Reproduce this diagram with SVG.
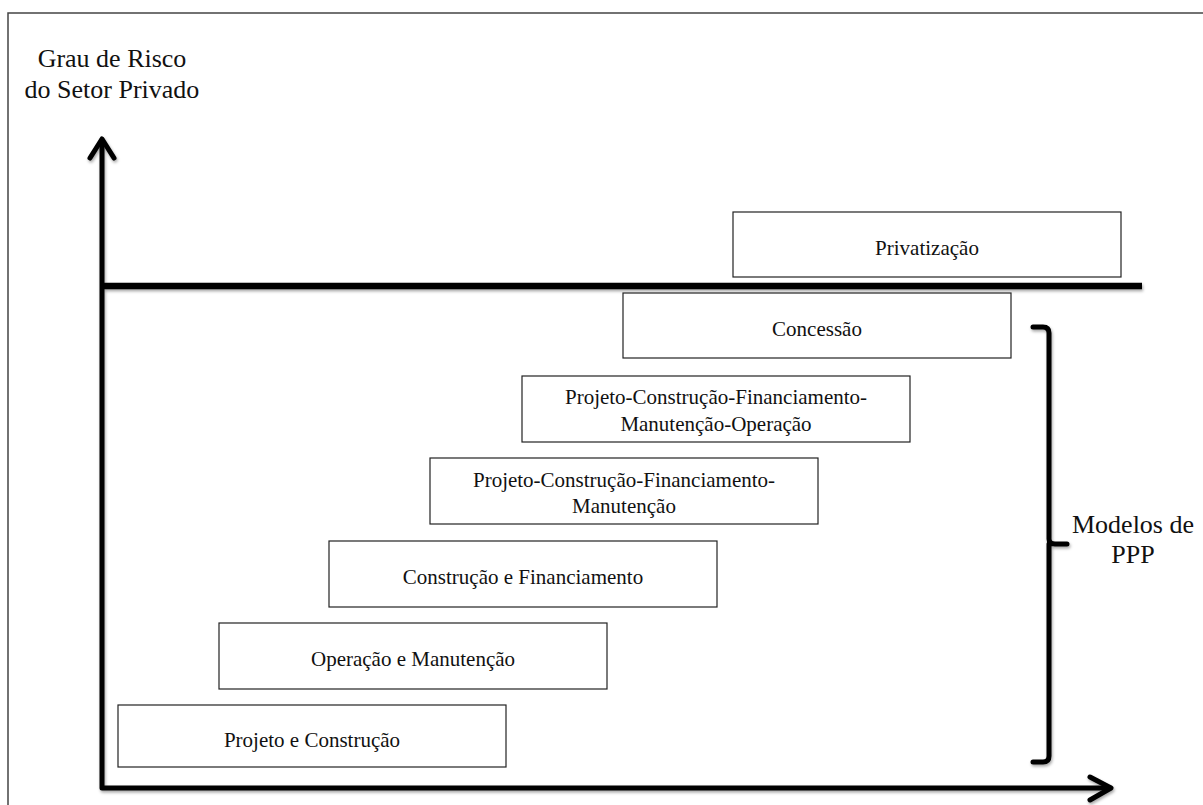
<svg xmlns="http://www.w3.org/2000/svg" width="1203" height="805" viewBox="0 0 1203 805">
  <defs>
    <filter id="sh" x="-5%" y="-50%" width="110%" height="200%">
      <feDropShadow dx="1" dy="2" stdDeviation="1.5" flood-color="#000" flood-opacity="0.35"/>
    </filter>
  </defs>
  <style>
    .box { fill: #fff; stroke: #222; stroke-width: 1.2; }
    .lbl { font-family: 'Liberation Serif', 'Noto Serif', 'DejaVu Serif', serif; font-size: 21px; fill: #111; text-anchor: middle; }
    .ttl { font-family: 'Liberation Serif', 'Noto Serif', 'DejaVu Serif', serif; font-size: 26px; fill: #111; text-anchor: middle; }
    .axis { fill: none; stroke: #000; stroke-width: 5; stroke-linecap: round; stroke-linejoin: round; }
  </style>
  <rect width="1203" height="805" fill="#fff"/>
  <g id="frame">
    <path d="M8,805 L8,13 L1203,13" fill="none" stroke="#444" stroke-width="1.5"/>
  </g>
  <g id="title">
    <text class="ttl" x="112" y="67" font-family="DejaVu Serif">Grau de Risco</text>
    <text class="ttl" x="112" y="98">do Setor Privado</text>
  </g>
  <g id="connectors" filter="url(#sh)">
    <path class="axis" d="M102,140 L102,788 L1110,788"/>
    <path class="axis" d="M90,158 L102,139 L114,158"/>
    <path class="axis" d="M1090,777 L1111,788 L1090,800"/>
    <path d="M102,286 L1142,286" stroke="#000" stroke-width="6.5" fill="none"/>
    <path class="axis" d="M1033,327 L1043,327 Q1049,327 1049,333 L1049,539 Q1049,544 1055,544 L1067,544 M1049,544 L1049,756 Q1049,762 1043,762 L1033,762"/>
  </g>
  <g id="privatizacao">
    <rect class="box" x="733" y="212" width="388" height="65"/>
    <text class="lbl" x="927" y="255">Privatização</text>
  </g>
  <g id="concessao">
    <rect class="box" x="623" y="293" width="388" height="65"/>
    <text class="lbl" x="817" y="336">Concessão</text>
  </g>
  <g id="pcfmo">
    <rect class="box" x="522" y="376" width="388" height="66"/>
    <text class="lbl" x="716" y="404">Projeto-Construção-Financiamento-</text>
    <text class="lbl" x="716" y="431">Manutenção-Operação</text>
  </g>
  <g id="pcfm">
    <rect class="box" x="430" y="458" width="388" height="66"/>
    <text class="lbl" x="624" y="487">Projeto-Construção-Financiamento-</text>
    <text class="lbl" x="624" y="513">Manutenção</text>
  </g>
  <g id="construcao-financiamento">
    <rect class="box" x="329" y="541" width="388" height="66"/>
    <text class="lbl" x="523" y="584">Construção e Financiamento</text>
  </g>
  <g id="operacao-manutencao">
    <rect class="box" x="219" y="623" width="388" height="66"/>
    <text class="lbl" x="413" y="666">Operação e Manutenção</text>
  </g>
  <g id="projeto-construcao">
    <rect class="box" x="118" y="705" width="388" height="62"/>
    <text class="lbl" x="312" y="747">Projeto e Construção</text>
  </g>
  <g id="modelos-ppp">
    <text class="ttl" x="1133" y="533">Modelos de</text>
    <text class="ttl" x="1133" y="563">PPP</text>
  </g>
</svg>
